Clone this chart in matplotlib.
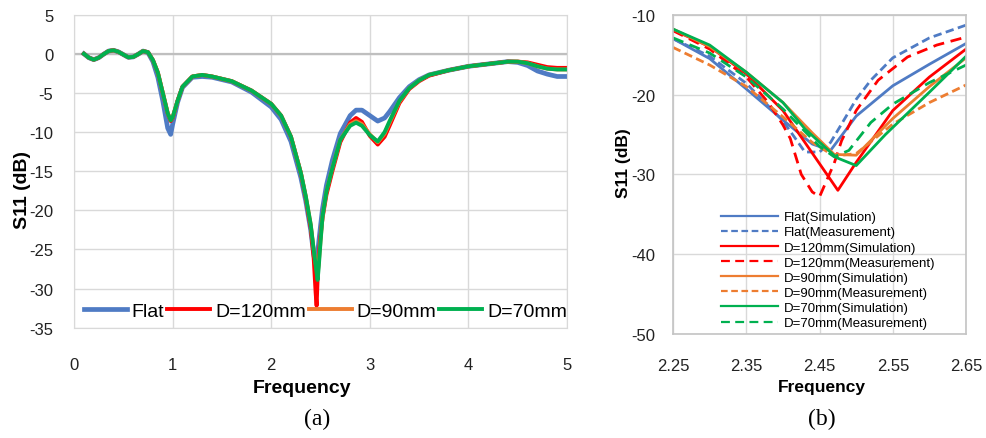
import matplotlib
matplotlib.use("Agg")
import matplotlib.pyplot as plt

plt.rcParams['font.family'] = ['Liberation Sans', 'DejaVu Sans']
plt.rcParams['axes.unicode_minus'] = False

# ---- (a) full band ----
freq_a = [0.1, 0.15, 0.2, 0.25, 0.3, 0.35, 0.4, 0.45, 0.5, 0.55, 0.6, 0.65, 0.7, 0.75,
          0.8, 0.85, 0.9, 0.95, 0.98, 1.0, 1.05, 1.1, 1.2, 1.3, 1.4, 1.6, 1.8, 2.0,
          2.1, 2.2, 2.3, 2.35, 2.4, 2.43, 2.45, 2.46, 2.47, 2.48, 2.5, 2.52, 2.56,
          2.62, 2.7, 2.8, 2.86, 2.92, 3.0, 3.08, 3.15, 3.2, 3.3, 3.4, 3.5, 3.6,
          3.8, 4.0, 4.2, 4.4, 4.5, 4.6, 4.7, 4.8, 4.9, 5.0]

s11_flat = [0.0, -0.5, -0.75, -0.5, -0.05, 0.35, 0.45, 0.25, -0.1, -0.45, -0.4, -0.05, 0.35, 0.15,
            -1.0, -3.0, -6.0, -9.5, -10.3, -9.0, -6.2, -4.3, -3.0, -2.9, -3.0, -3.6, -4.9, -6.8,
            -8.4, -11.2, -15.8, -18.8, -22.5, -25.6, -27.0, -26.6, -25.5, -24.3, -22.0, -19.8, -16.8,
            -13.6, -10.2, -7.9, -7.2, -7.2, -7.9, -8.6, -8.2, -7.4, -5.6, -4.2, -3.3, -2.7,
            -2.1, -1.6, -1.3, -1.0, -1.1, -1.5, -2.2, -2.6, -2.9, -2.9]

s11_d120 = [0.0, -0.5, -0.75, -0.5, -0.05, 0.35, 0.45, 0.25, -0.1, -0.45, -0.4, -0.05, 0.35, 0.2,
            -0.8, -2.4, -5.0, -7.6, -8.6, -8.2, -6.0, -4.2, -2.9, -2.7, -2.9, -3.5, -4.7, -6.4,
            -7.9, -10.6, -15.2, -18.4, -22.2, -26.0, -30.5, -32.2, -28.8, -26.0, -23.2, -21.0, -18.0,
            -15.0, -11.3, -8.8, -8.2, -8.7, -10.5, -11.6, -10.6, -9.2, -6.3, -4.5, -3.5, -2.8,
            -2.1, -1.6, -1.3, -1.0, -1.0, -1.1, -1.4, -1.7, -1.8, -1.8]

s11_d90 = [0.0, -0.5, -0.75, -0.5, -0.05, 0.35, 0.45, 0.25, -0.1, -0.45, -0.4, -0.05, 0.35, 0.2,
           -0.8, -2.4, -5.0, -7.6, -8.5, -8.1, -6.0, -4.2, -2.9, -2.7, -2.9, -3.5, -4.7, -6.4,
           -7.9, -10.6, -15.2, -18.2, -21.8, -25.0, -26.8, -27.5, -28.0, -27.0, -23.8, -20.8, -17.6,
           -14.6, -11.0, -9.0, -8.6, -9.0, -10.3, -11.3, -10.2, -8.8, -6.1, -4.4, -3.4, -2.7,
           -2.1, -1.6, -1.3, -1.0, -1.0, -1.2, -1.6, -1.9, -2.0, -2.0]

s11_d70 = [0.0, -0.5, -0.75, -0.5, -0.05, 0.35, 0.45, 0.25, -0.1, -0.45, -0.4, -0.05, 0.35, 0.2,
           -0.8, -2.4, -5.0, -7.6, -8.5, -8.1, -6.0, -4.2, -2.9, -2.7, -2.9, -3.5, -4.7, -6.4,
           -7.9, -10.6, -15.2, -18.2, -21.8, -25.0, -27.0, -28.0, -28.9, -27.5, -24.0, -20.8, -17.6,
           -14.6, -11.0, -9.2, -8.8, -9.2, -10.4, -11.2, -10.0, -8.6, -6.0, -4.4, -3.4, -2.7,
           -2.1, -1.6, -1.3, -1.0, -1.0, -1.2, -1.6, -1.9, -2.0, -2.0]

# ---- (b) zoom around 2.45 GHz, simulation vs measurement ----
flat_sim_f = [2.25, 2.30, 2.35, 2.40, 2.44, 2.465, 2.50, 2.55, 2.60, 2.65]
flat_sim = [-13.0, -15.5, -19.3, -23.2, -26.2, -27.0, -22.7, -18.9, -16.2, -13.6]
flat_meas_f = [2.25, 2.30, 2.35, 2.40, 2.43, 2.45, 2.465, 2.48, 2.50, 2.52, 2.55, 2.60, 2.65]
flat_meas = [-13.0, -15.2, -18.6, -23.3, -27.2, -27.2, -26.0, -23.7, -20.6, -18.2, -15.4, -12.9, -11.3]

d120_sim_f = [2.25, 2.30, 2.35, 2.40, 2.43, 2.475, 2.50, 2.55, 2.60, 2.65]
d120_sim = [-11.9, -14.0, -17.4, -22.0, -26.0, -32.0, -28.5, -22.0, -17.8, -14.3]
d120_meas_f = [2.25, 2.30, 2.35, 2.38, 2.40, 2.41, 2.425, 2.44, 2.45, 2.47, 2.48, 2.50, 2.53, 2.57, 2.61, 2.65]
d120_meas = [-12.0, -14.3, -17.8, -21.0, -23.8, -25.5, -30.0, -32.2, -32.8, -28.6, -25.8, -22.0, -18.2, -15.3, -13.8, -12.8]

d90_sim_f = [2.25, 2.30, 2.35, 2.40, 2.44, 2.47, 2.50, 2.55, 2.60, 2.65]
d90_sim = [-11.8, -14.0, -17.2, -21.0, -24.8, -27.5, -27.6, -23.0, -19.0, -15.4]
d90_meas_f = [2.25, 2.30, 2.35, 2.40, 2.44, 2.47, 2.50, 2.55, 2.60, 2.65]
d90_meas = [-14.1, -16.3, -19.0, -22.8, -26.0, -27.7, -27.4, -23.7, -21.0, -18.8]

d70_sim_f = [2.25, 2.30, 2.35, 2.40, 2.43, 2.473, 2.50, 2.54, 2.60, 2.65]
d70_sim = [-11.8, -13.8, -17.2, -21.0, -24.3, -27.9, -28.9, -25.0, -19.7, -15.2]
d70_meas_f = [2.25, 2.30, 2.35, 2.40, 2.45, 2.47, 2.49, 2.52, 2.55, 2.60, 2.65]
d70_meas = [-12.9, -14.8, -17.8, -21.8, -26.5, -27.8, -27.0, -23.5, -21.2, -18.5, -16.3]

BLUE = '#4F7BC4'
RED = '#FF0000'
ORANGE = '#ED7D31'
GREEN = '#00B050'
GRID = '#D9D9D9'

fig = plt.figure(figsize=(9.86, 4.39), dpi=100)

# ---------- panel (a) ----------
ax1 = fig.add_axes([0.0751, 0.2513, 0.5, 0.713])
ax1.plot(freq_a, s11_flat, color=BLUE, lw=3.4, label='Flat')
ax1.plot(freq_a, s11_d120, color=RED, lw=2.8, label='D=120mm')
ax1.plot(freq_a, s11_d90, color=ORANGE, lw=2.8, label='D=90mm')
ax1.plot(freq_a, s11_d70, color=GREEN, lw=2.8, label='D=70mm')
ax1.axhline(0, color='#BFBFBF', lw=1.6, zorder=1)
ax1.set_xlim(0, 5)
ax1.set_ylim(-35, 5)
ax1.set_xticks(range(0, 6))
ax1.set_yticks(range(-35, 6, 5))
ax1.grid(True, color=GRID, lw=1.0)
ax1.set_axisbelow(True)
for sp in ax1.spines.values():
    sp.set_color(GRID)
ax1.tick_params(length=0, labelsize=12, colors='#222222')
ax1.tick_params(axis='y', pad=15)
ax1.tick_params(axis='x', pad=21)
ax1.set_xlabel('Frequency', fontsize=14, fontweight='bold')
ax1.xaxis.set_label_coords(0.462, -0.165)
ax1.set_ylabel('S11 (dB)', fontsize=14, fontweight='bold')
ax1.yaxis.set_label_coords(-0.088, 0.443)
ax1.legend(loc='center', bbox_to_anchor=(0.51, 0.053), ncol=4, frameon=False,
           fontsize=14, handlelength=2.2, handletextpad=0.26, columnspacing=0.15,
           borderpad=0, borderaxespad=0)

# ---------- panel (b) ----------
ax2 = fig.add_axes([0.6826, 0.2369, 0.2972, 0.7273])
lw = 2.0
ax2.plot(flat_sim_f, flat_sim, color=BLUE, lw=lw, label='Flat(Simulation)')
ax2.plot(flat_meas_f, flat_meas, color=BLUE, lw=lw, dashes=(3.0, 1.6), label='Flat(Measurement)')
ax2.plot(d120_sim_f, d120_sim, color=RED, lw=lw, label='D=120mm(Simulation)')
ax2.plot(d120_meas_f, d120_meas, color=RED, lw=lw, dashes=(4.0, 2.4), label='D=120mm(Measurement)')
ax2.plot(d90_sim_f, d90_sim, color=ORANGE, lw=lw, label='D=90mm(Simulation)')
ax2.plot(d90_meas_f, d90_meas, color=ORANGE, lw=lw, dashes=(3.0, 1.6), label='D=90mm(Measurement)')
ax2.plot(d70_sim_f, d70_sim, color=GREEN, lw=lw, label='D=70mm(Simulation)')
ax2.plot(d70_meas_f, d70_meas, color=GREEN, lw=lw, dashes=(4.0, 2.4), label='D=70mm(Measurement)')
ax2.set_xlim(2.25, 2.65)
ax2.set_ylim(-50, -10)
ax2.set_xticks([2.25, 2.35, 2.45, 2.55, 2.65])
ax2.set_xticklabels(['2.25', '2.35', '2.45', '2.55', '2.65'])
ax2.set_yticks([-50, -40, -30, -20, -10])
ax2.grid(True, color=GRID, lw=1.0)
ax2.set_axisbelow(True)
for sp in ax2.spines.values():
    sp.set_color('#C4C4C4')
    sp.set_linewidth(1.2)
ax2.tick_params(length=0, labelsize=12, colors='#222222')
ax2.tick_params(axis='y', pad=13)
ax2.tick_params(axis='x', pad=17)
ax2.set_xlabel('Frequency', fontsize=12.5, fontweight='bold')
ax2.xaxis.set_label_coords(0.507, -0.142)
ax2.set_ylabel('S11 (dB)', fontsize=12.5, fontweight='bold')
ax2.yaxis.set_label_coords(-0.143, 0.539)
leg = ax2.legend(loc='center left', bbox_to_anchor=(0.163, 0.2), frameon=False,
                 fontsize=9.5, handlelength=4.3, handletextpad=0.45, labelspacing=0.22,
                 borderpad=0, borderaxespad=0)
for ln in leg.get_lines():
    ln.set_linewidth(1.6)

fig.text(0.3215, 0.044, '(a)', ha='center', va='center', fontsize=17, family='Liberation Serif')
fig.text(0.8337, 0.044, '(b)', ha='center', va='center', fontsize=17, family='Liberation Serif')

fig.savefig('out.png', dpi=100)
